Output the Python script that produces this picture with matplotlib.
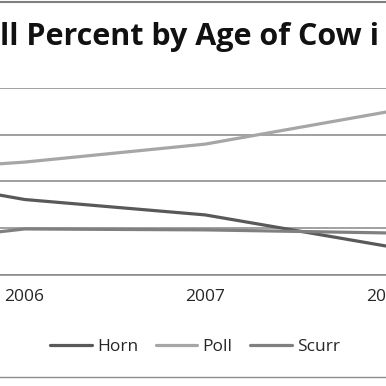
import matplotlib.pyplot as plt
from matplotlib.lines import Line2D

years = [2005, 2006, 2007, 2008]
horn = [46.0, 32.3, 25.7, 12.4]
poll = [43.0, 48.3, 56.0, 69.7]
scurr = [11.0, 19.7, 19.3, 18.0]
tick_years = [2006, 2007, 2008]

plt.rcParams['font.family'] = ['Open Sans', 'DejaVu Sans']

fig = plt.figure(figsize=(3.86, 3.86), dpi=100)
# plot area is wider than the visible crop
ax = fig.add_axes([0, 111 / 386, 1, 187 / 386])

ax.plot(years, horn, color='#595959', lw=2.3, label='Horn', solid_capstyle='round')
ax.plot(years, poll, color='#a6a6a6', lw=2.3, label='Poll', solid_capstyle='round')
ax.plot(years, scurr, color='#808080', lw=2.3, label='Scurr', solid_capstyle='round')

ax.set_xlim(2006 - 25 / 183.5, 2006 + 361 / 183.5)
ax.set_ylim(0, 80)
ax.set_yticks([0, 20, 40, 60, 80])
ax.set_xticks(tick_years)
ax.set_xticklabels([str(y) for y in tick_years])
ax.tick_params(axis='x', length=0, pad=10, labelsize=12.5, colors='#262626')
ax.tick_params(axis='y', length=0, labelleft=False)
ax.grid(axis='y', color='#868686', lw=1.1)
ax.set_axisbelow(True)
for s in ['top', 'left', 'right']:
    ax.spines[s].set_visible(False)
ax.spines['bottom'].set_color('#868686')
ax.spines['bottom'].set_linewidth(1.1)

fig.text(0.0, 1 - 45 / 386, 'll Percent by Age of Cow i', ha='left', va='baseline',
         fontsize=22, fontweight='bold', color='#111111')

fig.legend(loc='center', bbox_to_anchor=(195 / 386, 1 - 347 / 386), ncol=3,
           frameon=False, fontsize=12.5, handlelength=2.4, handletextpad=0.3,
           columnspacing=1.0, labelcolor='#262626')

# chart border, top and bottom
fig.add_artist(Line2D([0, 1], [1 - 1.5 / 386, 1 - 1.5 / 386], color='#7f7f7f', lw=1.5))
fig.add_artist(Line2D([0, 1], [1 - 377 / 386, 1 - 377 / 386], color='#8c8c8c', lw=1.0))

fig.savefig('out.png', dpi=100)
